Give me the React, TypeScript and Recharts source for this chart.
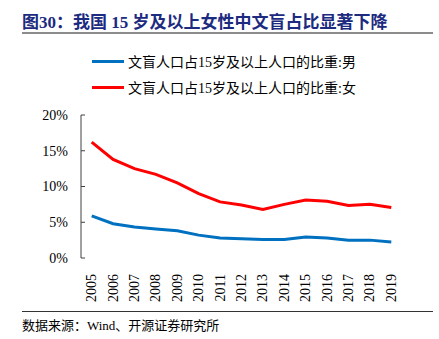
import React from "react";
import { LineChart, Line, XAxis, YAxis, Legend } from "recharts";

const years = ["2005", "2006", "2007", "2008", "2009", "2010", "2011", "2012", "2013", "2014", "2015", "2016", "2017", "2018", "2019"];
const male = [5.9, 4.8, 4.35, 4.05, 3.8, 3.2, 2.8, 2.7, 2.6, 2.6, 2.95, 2.8, 2.5, 2.5, 2.25];
const female = [16.2, 13.8, 12.5, 11.7, 10.5, 9.0, 7.85, 7.4, 6.8, 7.5, 8.1, 7.95, 7.35, 7.5, 7.05];
const yTicks = [0, 5, 10, 15, 20];
const maleName = "文盲人口占15岁及以上人口的比重:男";
const femaleName = "文盲人口占15岁及以上人口的比重:女";
const legendOrder = [maleName, femaleName];

const data = years.map((y, i) => ({ i, year: y, male: male[i], female: female[i] }));
const labelTicks = years.map((_, i) => i);
const edgeTicks = [...years.map((_, i) => i - 0.5), years.length - 0.5];

const SERIF = '"Times New Roman", "Liberation Serif", "Noto Sans CJK SC", serif';
const AXIS = "#404040";

function YearTick(props: any) {
  const { x, y, payload } = props;
  return (
    <text
      x={x}
      y={y}
      transform={`rotate(-90 ${x} ${y})`}
      textAnchor="end"
      dominantBaseline="central"
      fontFamily={SERIF}
      fontSize={14}
      fill="#000"
    >
      {years[payload.value]}
    </text>
  );
}

function LegendBox(props: any) {
  const items = props.payload || [];
  const sorted = legendOrder
    .map((n) => items.find((it: any) => it.value === n))
    .filter(Boolean);
  return (
    <div style={{ fontFamily: SERIF, fontSize: 14, color: "#000" }}>
      {sorted.map((it: any) => (
        <div key={it.value} style={{ display: "flex", alignItems: "center", height: 26, whiteSpace: "nowrap" }}>
          <span style={{ display: "inline-block", width: 32, height: 3, background: it.color, marginRight: 4 }} />
          <span>{it.value}</span>
        </div>
      ))}
    </div>
  );
}

export default function App() {
  return (
    <div style={{ position: "absolute", left: 0, top: 0, width: 439, height: 339, background: "#fff", fontFamily: SERIF }}>
      <div style={{ position: "absolute", left: 22, top: 8, fontSize: 17, fontWeight: "bold", color: "#1c2b80", whiteSpace: "nowrap" }}>
        图30：我国 15 岁及以上女性中文盲占比显著下降
      </div>
      <div style={{ position: "absolute", left: 22, top: 32, width: 411, height: 2, background: "#8c8c8c" }} />
      <LineChart width={439} height={339} data={data} margin={{ top: 115, right: 37, left: 21, bottom: 41 }}>
        <XAxis
          xAxisId="edge"
          dataKey="i"
          type="number"
          domain={[-0.5, years.length - 0.5]}
          ticks={edgeTicks}
          tickFormatter={() => ""}
          tickSize={-4}
          height={0}
          stroke={AXIS}
          axisLine={{ stroke: AXIS }}
          tickLine={{ stroke: AXIS }}
        />
        <XAxis
          xAxisId="lab"
          dataKey="i"
          type="number"
          domain={[-0.5, years.length - 0.5]}
          ticks={labelTicks}
          interval={0}
          tick={<YearTick />}
          tickLine={false}
          axisLine={false}
          tickMargin={10}
          height={40}
        />
        <YAxis
          width={60}
          domain={[0, 20]}
          ticks={yTicks}
          tickFormatter={(v: number) => `${v}%`}
          tickSize={-4}
          tickMargin={17}
          stroke={AXIS}
          tick={{ fill: "#000", fontSize: 14, fontFamily: SERIF }}
        />
        <Legend
          layout="vertical"
          align="center"
          verticalAlign="middle"
          content={<LegendBox />}
          wrapperStyle={{ top: 48, left: 92, width: 320 }}
        />
        <Line xAxisId="lab" dataKey="male" name={maleName} stroke="#0070c0" strokeWidth={3} dot={false} isAnimationActive={false} />
        <Line xAxisId="lab" dataKey="female" name={femaleName} stroke="#ff0000" strokeWidth={3} dot={false} isAnimationActive={false} />
      </LineChart>
      <div style={{ position: "absolute", left: 22, top: 311, width: 411, height: 1, background: "#333" }} />
      <div style={{ position: "absolute", left: 22, top: 315, fontSize: 13, color: "#000", whiteSpace: "nowrap" }}>
        数据来源：Wind、开源证券研究所
      </div>
    </div>
  );
}
